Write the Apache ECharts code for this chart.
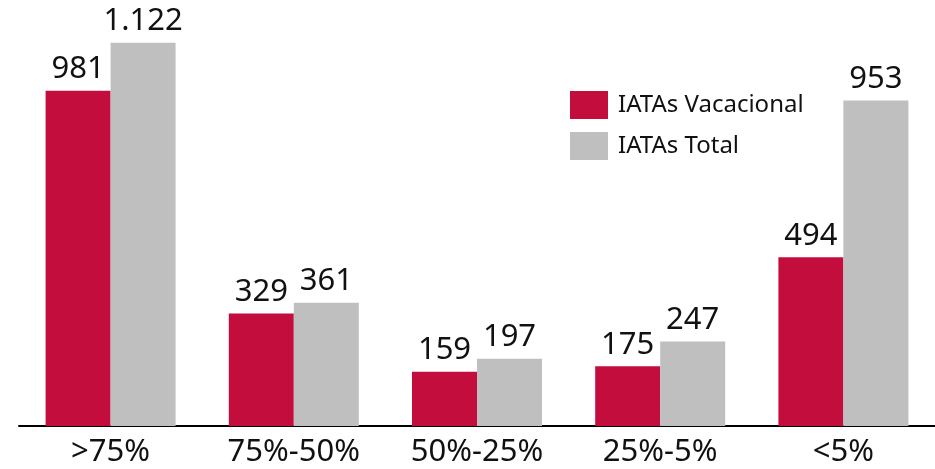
<!DOCTYPE html>
<html>
<head>
<meta charset="utf-8">
<script src="https://cdn.jsdelivr.net/npm/echarts@6/dist/echarts.min.js"></script>
<style>
  html, body { margin: 0; padding: 0; background: #fff; }
  #chart { width: 935px; height: 469px; }
</style>
</head>
<body>
<div id="chart"></div>
<script>
// categorías y valores
const categories = ['>75%', '75%-50%', '50%-25%', '25%-5%', '<5%'];
const vacacional = [981, 329, 159, 175, 494];
const total = [1122, 361, 197, 247, 953];
const seriesNames = ['IATAs Vacacional', 'IATAs Total'];

const fontFamily = '"Noto Sans", "Open Sans", sans-serif';

// formato con punto de miles
function fmt(v) {
    return String(v).replace(/\B(?=(\d{3})+(?!\d))/g, '.');
}

const labelStyle = {
    show: true,
    position: 'top',
    distance: 6,
    color: '#111',
    fontSize: 31,
    fontFamily: fontFamily,
    formatter: p => fmt(p.value)
};

const option = {
    animation: false,
    grid: { left: 19, right: -4, top: 16, bottom: 43 },
    legend: {
        orient: 'vertical',
        left: 565,
        top: 86,
        itemWidth: 38,
        itemHeight: 28,
        itemGap: 13,
        icon: 'rect',
        textStyle: { fontSize: 24, color: '#111', fontFamily: fontFamily, padding: [0, 0, 0, 5] },
        data: seriesNames
    },
    xAxis: {
        type: 'category',
        data: categories,
        axisLine: { lineStyle: { color: '#000', width: 2 } },
        axisTick: { show: false },
        axisLabel: { fontSize: 31, color: '#111', fontFamily: fontFamily, margin: 11 }
    },
    yAxis: {
        type: 'value',
        min: 0,
        max: 1200,
        show: false,
        splitLine: { show: false }
    },
    series: [
        {
            name: seriesNames[0],
            type: 'bar',
            data: vacacional,
            barWidth: 65,
            barGap: '0%',
            itemStyle: { color: '#C20D3D' },
            label: labelStyle
        },
        {
            name: seriesNames[1],
            type: 'bar',
            data: total,
            barWidth: 65,
            itemStyle: { color: '#BFBFBF' },
            label: labelStyle
        }
    ]
};

const chart = echarts.init(document.getElementById('chart'));
chart.setOption(option);
</script>
</body>
</html>
